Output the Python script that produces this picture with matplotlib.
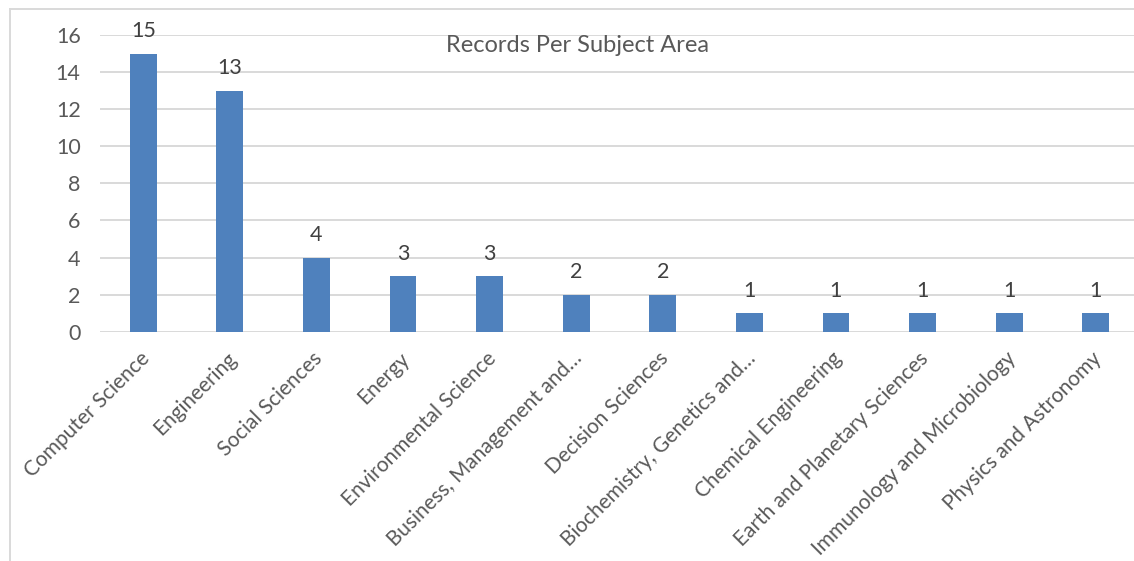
import matplotlib
matplotlib.use("Agg")
import matplotlib.pyplot as plt
import matplotlib.transforms as mtransforms
from matplotlib.lines import Line2D

categories = ["Computer Science", "Engineering", "Social Sciences", "Energy",
              "Environmental Science", "Business, Management and\u2026",
              "Decision Sciences", "Biochemistry, Genetics and\u2026",
              "Chemical Engineering", "Earth and Planetary Sciences",
              "Immunology and Microbiology", "Physics and Astronomy"]
values = [15, 13, 4, 3, 3, 2, 2, 1, 1, 1, 1, 1]
yticks = [0, 2, 4, 6, 8, 10, 12, 14, 16]
title = "Records Per Subject Area"

plt.rcParams['font.family'] = ['Lato', 'DejaVu Sans']
TXT = '#595959'
GRID = '#d9d9d9'

W, H = 1134, 561
fig = plt.figure(figsize=(W / 100, H / 100), dpi=100)
ax = fig.add_axes([100 / W, 1 - 331.7 / H, 1039 / W, (331.7 - 35) / H])

x = list(range(len(categories)))
bars = ax.bar(x, values, width=0.31, color='#4f81bd', zorder=3)
ax.set_xlim(-0.5, len(categories) - 0.5)
ax.set_ylim(0, 16)
ax.set_yticks(yticks)
ax.set_yticklabels([str(t) for t in yticks])
ax.yaxis.grid(True, color=GRID, linewidth=1.4, zorder=0)
ax.set_axisbelow(True)
for s in ax.spines.values():
    s.set_visible(False)
ax.tick_params(axis='both', length=0, colors=TXT, labelsize=15.5)
ax.tick_params(axis='y', pad=14)
ax.set_xticks(x)
ax.set_xticklabels(categories, rotation=45, ha='right', va='top',
                   rotation_mode='anchor', fontsize=15, color=TXT)
ax.tick_params(axis='x', pad=12)
offset = mtransforms.ScaledTranslation(-4 / 100, 0, fig.dpi_scale_trans)
for lab in ax.get_xticklabels():
    lab.set_transform(lab.get_transform() + offset)

for xi, v in zip(x, values):
    ax.annotate(str(v), (xi, v), xytext=(0, 16), textcoords='offset points',
                ha='center', va='center', fontsize=15.5, color='#404040')

fig.text(578 / W, 1 - 45 / H, title, ha='center', va='center',
         fontsize=17, color=TXT)

# chart-area border (left and top visible in the crop)
fig.add_artist(Line2D([10 / W, 10 / W], [0, 1 - 9 / H], transform=fig.transFigure,
                      color=GRID, linewidth=1.4))
fig.add_artist(Line2D([10 / W, 1], [1 - 9 / H, 1 - 9 / H], transform=fig.transFigure,
                      color=GRID, linewidth=1.4))

fig.savefig("out.png", dpi=100)
